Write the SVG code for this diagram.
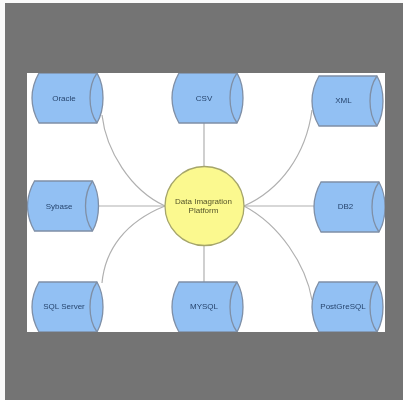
<svg xmlns="http://www.w3.org/2000/svg" width="403" height="400" viewBox="0 0 403 400">
<defs>
<style>
.c{fill:none;stroke:#b0b0b0;stroke-width:1.2}
.b{fill:#92c0f3;stroke:#7f8fa6;stroke-width:1.3}
.f{fill:none;stroke:#7f8fa6;stroke-width:1.3}
text{font-family:"Liberation Sans",Arial,sans-serif;font-size:8px;fill:#27456e;text-anchor:middle}
#platform text{fill:#55552a}
</style>
<filter id="soft" x="0" y="0" width="100%" height="100%"><feGaussianBlur stdDeviation="0.4"/></filter>
<clipPath id="w"><rect x="27" y="73" width="358" height="259"/></clipPath>
<g id="cyl">
<path class="b" d="M7 0H65C69 7 71 16 71 25C71 34 69 43 65 50H7C3 43 0 34 0 25C0 16 3 7 7 0Z"/>
<path class="f" d="M65 0C60 7 58 16 58 25C58 34 60 43 65 50"/>
</g>
</defs>
<rect width="403" height="400" fill="#fafafa"/>
<rect x="5" y="3" width="398" height="397" fill="#747474"/>
<rect x="27" y="73" width="358" height="259" fill="#fff"/>
<g filter="url(#soft)">
<g id="connectors">
<path class="c" d="M102 115C106 150 130 190 165 206"/>
<path class="c" d="M98 206H165"/>
<path class="c" d="M102 283C105 250 125 222 165 206"/>
<path class="c" d="M204 123V167"/>
<path class="c" d="M204 245V282"/>
<path class="c" d="M312 110C306 155 280 190 244 206"/>
<path class="c" d="M244 206H314"/>
<path class="c" d="M312 300C306 265 280 225 244 206"/>
</g>
<g clip-path="url(#w)">
<g id="oracle"><use href="#cyl" x="32" y="73"/><text x="64" y="100.500">Oracle</text></g>
<g id="csv"><use href="#cyl" x="172" y="73"/><text x="204" y="100.500">CSV</text></g>
<g id="xml"><use href="#cyl" x="312" y="76"/><text x="343.500" y="102.500">XML</text></g>
<g id="sybase"><use href="#cyl" x="27.5" y="181"/><text x="59" y="208.500">Sybase</text></g>
<g id="db2"><use href="#cyl" x="314" y="182"/><text x="345.500" y="209">DB2</text></g>
<g id="sqlserver"><use href="#cyl" x="32" y="282"/><text x="64" y="309">SQL Server</text></g>
<g id="mysql"><use href="#cyl" x="172" y="282"/><text x="204" y="309">MYSQL</text></g>
<g id="postgresql"><use href="#cyl" x="312" y="282"/><text x="343" y="309">PostGreSQL</text></g>
</g>
<g id="platform">
<circle cx="204.500" cy="206" r="39.500" fill="#fbf98f" stroke="#a5a56a" stroke-width="1.300"/>
<text x="203.500" y="204">Data Imagration</text>
<text x="203.500" y="213">Platform</text>
</g>
</g>
</svg>
